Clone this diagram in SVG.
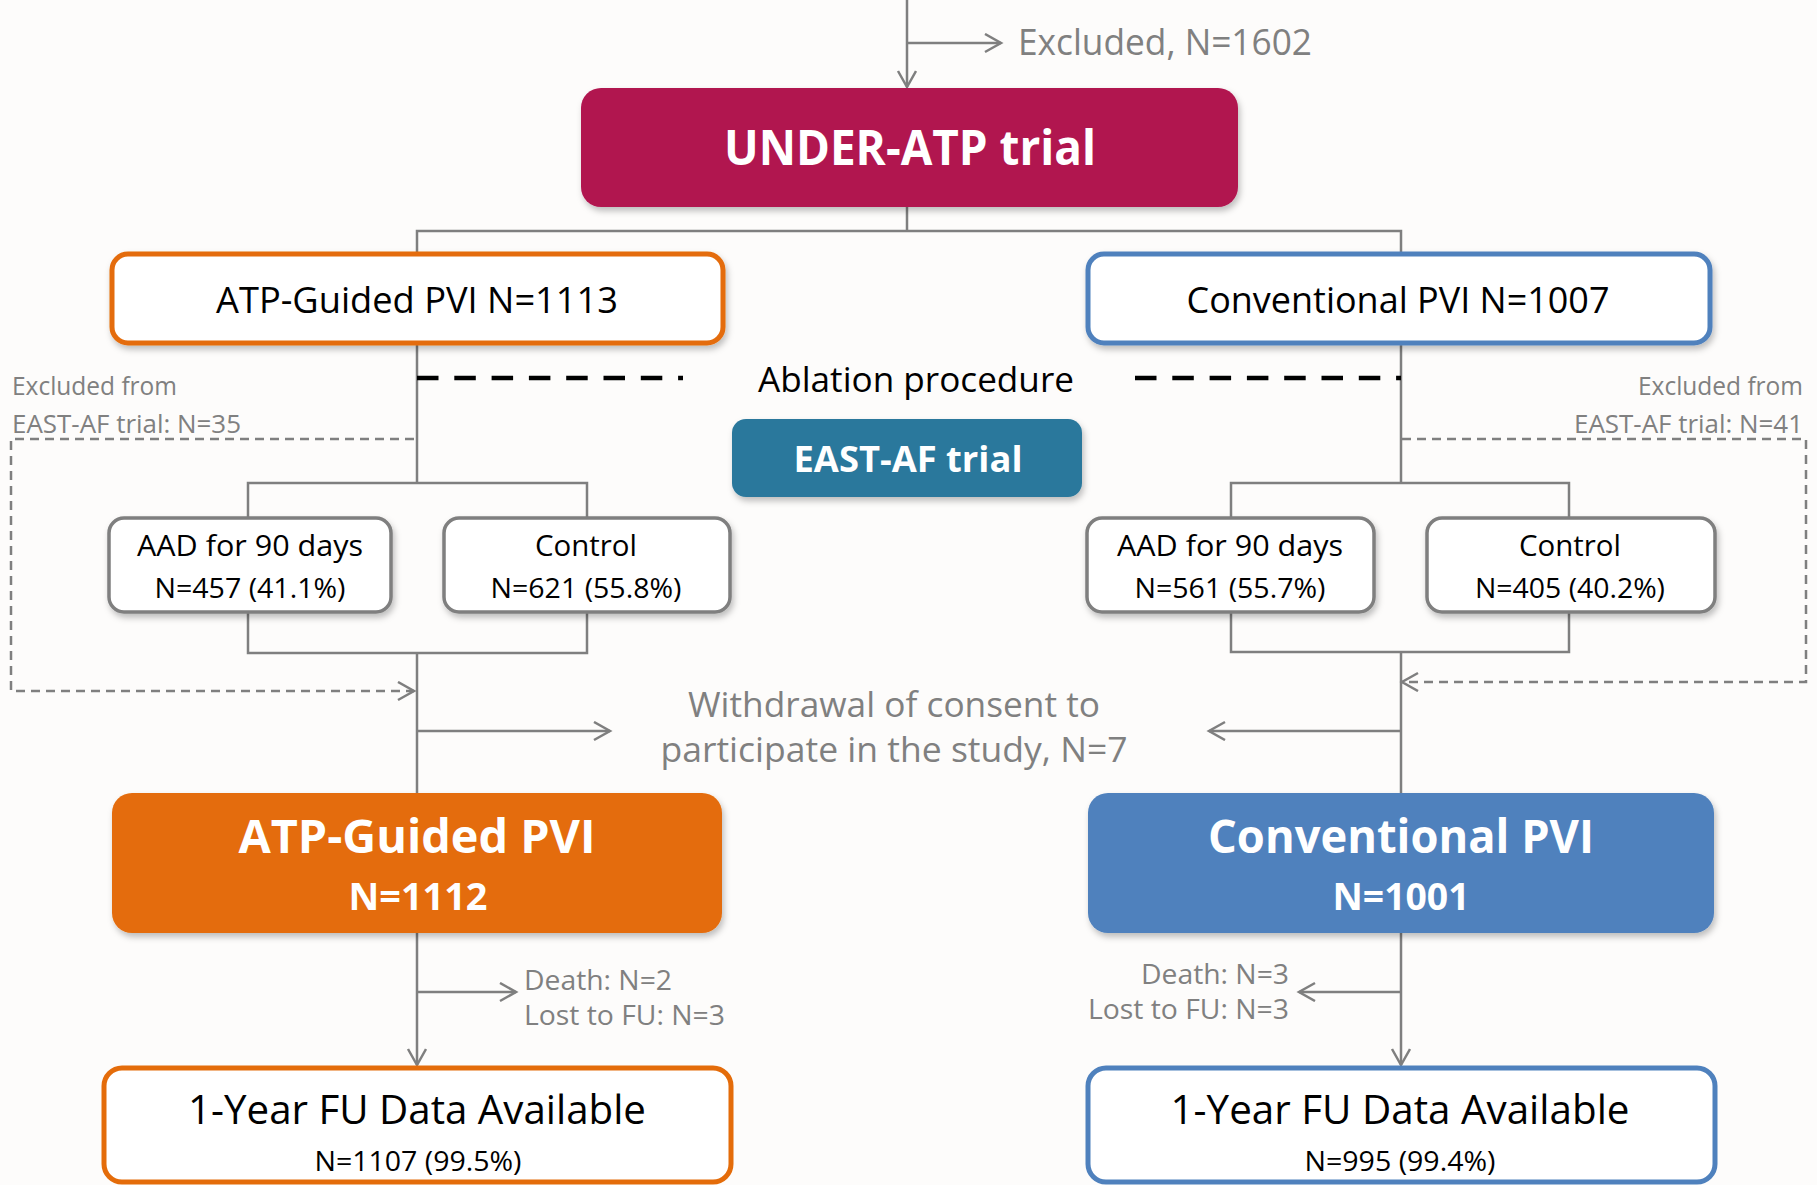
<svg xmlns="http://www.w3.org/2000/svg" width="1817" height="1185" viewBox="0 0 1817 1185">
<style>
.t{font-family:"Open Sans","Noto Sans","DejaVu Sans",sans-serif;}
.b{font-weight:bold;fill:#fff;}
.k{fill:#000;}
.g{fill:#808080;}
.ln{stroke:#7f7f7f;stroke-width:2.5;fill:none;}
.dl{stroke:#7f7f7f;stroke-width:2.5;fill:none;stroke-dasharray:9 6;}
.bd{stroke:#000;stroke-width:4.7;fill:none;stroke-dasharray:21.5 15.8;}
.ob{fill:#fff;stroke:#E46C0A;stroke-width:5;}
.bb{fill:#fff;stroke:#4F81BD;stroke-width:5;}
.sb{fill:#fff;stroke:#7f7f7f;stroke-width:3.5;}
</style>
<defs>
<filter id="sh" x="-10%" y="-10%" width="120%" height="140%">
<feDropShadow dx="2" dy="4" stdDeviation="3" flood-color="#000" flood-opacity="0.25"/>
</filter>
<marker id="ar" markerUnits="userSpaceOnUse" markerWidth="20" markerHeight="22" refX="17" refY="10" orient="auto">
<path d="M1,1 L17,10 L1,19" fill="none" stroke="#7f7f7f" stroke-width="2.5"/>
</marker>
</defs>
<rect width="1817" height="1185" fill="#fdfcfb"/>

<g id="connectors">
<line class="ln" x1="907" y1="0" x2="907" y2="87" marker-end="url(#ar)"/>
<line class="ln" x1="907" y1="43" x2="1001" y2="43" marker-end="url(#ar)"/>
<path class="ln" d="M907,207 V231 M417,253 V231 H1401 V253"/>
<path class="ln" d="M417,344 V483 M248,518 V483 H587 V518 M248,612 V653 H587 V612 M417,653 V793"/>
<path class="ln" d="M1401,343 V483 M1231,518 V483 H1569 V518 M1231,612 V652 H1569 V612 M1401,652 V793"/>
<line class="bd" x1="417" y1="378" x2="683" y2="378"/>
<line class="bd" x1="1135" y1="378" x2="1401" y2="378"/>
<path class="dl" d="M414,439 H11 V691 H414" marker-end="url(#ar)"/>
<path class="dl" d="M1402,439 H1806 V682 H1402" marker-end="url(#ar)"/>
<line class="ln" x1="417" y1="731" x2="610" y2="731" marker-end="url(#ar)"/>
<line class="ln" x1="1401" y1="731" x2="1209" y2="731" marker-end="url(#ar)"/>
<line class="ln" x1="417" y1="933" x2="417" y2="1065" marker-end="url(#ar)"/>
<line class="ln" x1="417" y1="992" x2="516" y2="992" marker-end="url(#ar)"/>
<line class="ln" x1="1401" y1="933" x2="1401" y2="1065" marker-end="url(#ar)"/>
<line class="ln" x1="1401" y1="992" x2="1299" y2="992" marker-end="url(#ar)"/>
</g>

<g id="excluded-top">
<text class="t g" x="1018" y="55" font-size="36" textLength="294" lengthAdjust="spacingAndGlyphs">Excluded, N=1602</text>
</g>

<g id="under-atp">
<rect x="581" y="88" width="657" height="119" rx="20" fill="#B1144F" filter="url(#sh)"/>
<text class="t b" x="910" y="165" font-size="48" text-anchor="middle" textLength="372" lengthAdjust="spacingAndGlyphs">UNDER-ATP trial</text>
</g>

<g id="atp-guided-1113">
<rect class="ob" x="112" y="254" width="611" height="89" rx="16" filter="url(#sh)"/>
<text class="t k" x="417" y="313" font-size="36" text-anchor="middle" textLength="402" lengthAdjust="spacingAndGlyphs">ATP-Guided PVI N=1113</text>
</g>

<g id="conventional-1007">
<rect class="bb" x="1088" y="254" width="622" height="89" rx="16" filter="url(#sh)"/>
<text class="t k" x="1398" y="313" font-size="36" text-anchor="middle" textLength="423" lengthAdjust="spacingAndGlyphs">Conventional PVI N=1007</text>
</g>

<g id="ablation-label">
<text class="t k" x="916" y="392" font-size="35" text-anchor="middle" textLength="316" lengthAdjust="spacingAndGlyphs">Ablation procedure</text>
</g>

<g id="east-af">
<rect x="732" y="419" width="350" height="78" rx="14" fill="#2A789C" filter="url(#sh)"/>
<text class="t b" x="908" y="472" font-size="35" text-anchor="middle" textLength="229" lengthAdjust="spacingAndGlyphs">EAST-AF trial</text>
</g>

<g id="excluded-left">
<text class="t g" x="12" y="395" font-size="25" textLength="165" lengthAdjust="spacingAndGlyphs">Excluded from</text>
<text class="t g" x="12" y="433" font-size="25" textLength="229" lengthAdjust="spacingAndGlyphs">EAST-AF trial: N=35</text>
</g>

<g id="excluded-right">
<text class="t g" x="1803" y="395" font-size="25" text-anchor="end" textLength="165" lengthAdjust="spacingAndGlyphs">Excluded from</text>
<text class="t g" x="1803" y="433" font-size="25" text-anchor="end" textLength="229" lengthAdjust="spacingAndGlyphs">EAST-AF trial: N=41</text>
</g>

<g id="aad-left">
<rect class="sb" x="109" y="518" width="282" height="94" rx="15" filter="url(#sh)"/>
<text class="t k" x="250" y="556" font-size="30" text-anchor="middle" textLength="226" lengthAdjust="spacingAndGlyphs">AAD for 90 days</text>
<text class="t k" x="250" y="598" font-size="28" text-anchor="middle" textLength="191" lengthAdjust="spacingAndGlyphs">N=457 (41.1%)</text>
</g>

<g id="control-left">
<rect class="sb" x="444" y="518" width="286" height="94" rx="15" filter="url(#sh)"/>
<text class="t k" x="586" y="556" font-size="30" text-anchor="middle" textLength="102" lengthAdjust="spacingAndGlyphs">Control</text>
<text class="t k" x="586" y="598" font-size="28" text-anchor="middle" textLength="191" lengthAdjust="spacingAndGlyphs">N=621 (55.8%)</text>
</g>

<g id="aad-right">
<rect class="sb" x="1087" y="518" width="287" height="94" rx="15" filter="url(#sh)"/>
<text class="t k" x="1230" y="556" font-size="30" text-anchor="middle" textLength="226" lengthAdjust="spacingAndGlyphs">AAD for 90 days</text>
<text class="t k" x="1230" y="598" font-size="28" text-anchor="middle" textLength="191" lengthAdjust="spacingAndGlyphs">N=561 (55.7%)</text>
</g>

<g id="control-right">
<rect class="sb" x="1427" y="518" width="288" height="94" rx="15" filter="url(#sh)"/>
<text class="t k" x="1570" y="556" font-size="30" text-anchor="middle" textLength="102" lengthAdjust="spacingAndGlyphs">Control</text>
<text class="t k" x="1570" y="598" font-size="28" text-anchor="middle" textLength="190" lengthAdjust="spacingAndGlyphs">N=405 (40.2%)</text>
</g>

<g id="withdrawal">
<text class="t g" x="894" y="717" font-size="35" text-anchor="middle" textLength="412" lengthAdjust="spacingAndGlyphs">Withdrawal of consent to</text>
<text class="t g" x="894" y="762" font-size="35" text-anchor="middle" textLength="467" lengthAdjust="spacingAndGlyphs">participate in the study, N=7</text>
</g>

<g id="atp-guided-1112">
<rect x="112" y="793" width="610" height="140" rx="20" fill="#E46C0A" filter="url(#sh)"/>
<text class="t b" x="417" y="853" font-size="46" text-anchor="middle" textLength="357" lengthAdjust="spacingAndGlyphs">ATP-Guided PVI</text>
<text class="t b" x="418" y="910" font-size="38" text-anchor="middle" textLength="139" lengthAdjust="spacingAndGlyphs">N=1112</text>
</g>

<g id="conventional-1001">
<rect x="1088" y="793" width="626" height="140" rx="20" fill="#4F81BD" filter="url(#sh)"/>
<text class="t b" x="1401" y="853" font-size="46" text-anchor="middle" textLength="386" lengthAdjust="spacingAndGlyphs">Conventional PVI</text>
<text class="t b" x="1401" y="910" font-size="38" text-anchor="middle" textLength="137" lengthAdjust="spacingAndGlyphs">N=1001</text>
</g>

<g id="loss-left">
<text class="t g" x="524" y="990" font-size="28" textLength="148" lengthAdjust="spacingAndGlyphs">Death: N=2</text>
<text class="t g" x="524" y="1025" font-size="28" textLength="201" lengthAdjust="spacingAndGlyphs">Lost to FU: N=3</text>
</g>

<g id="loss-right">
<text class="t g" x="1289" y="984" font-size="28" text-anchor="end" textLength="148" lengthAdjust="spacingAndGlyphs">Death: N=3</text>
<text class="t g" x="1289" y="1019" font-size="28" text-anchor="end" textLength="201" lengthAdjust="spacingAndGlyphs">Lost to FU: N=3</text>
</g>

<g id="fu-left">
<rect class="ob" x="104" y="1068" width="627" height="114" rx="18"/>
<text class="t k" x="417" y="1124" font-size="40" text-anchor="middle" textLength="458" lengthAdjust="spacingAndGlyphs">1-Year FU Data Available</text>
<text class="t k" x="418" y="1171" font-size="28" text-anchor="middle" textLength="207" lengthAdjust="spacingAndGlyphs">N=1107 (99.5%)</text>
</g>

<g id="fu-right">
<rect class="bb" x="1088" y="1068" width="627" height="114" rx="18"/>
<text class="t k" x="1400" y="1124" font-size="40" text-anchor="middle" textLength="459" lengthAdjust="spacingAndGlyphs">1-Year FU Data Available</text>
<text class="t k" x="1400" y="1171" font-size="28" text-anchor="middle" textLength="191" lengthAdjust="spacingAndGlyphs">N=995 (99.4%)</text>
</g>
</svg>
